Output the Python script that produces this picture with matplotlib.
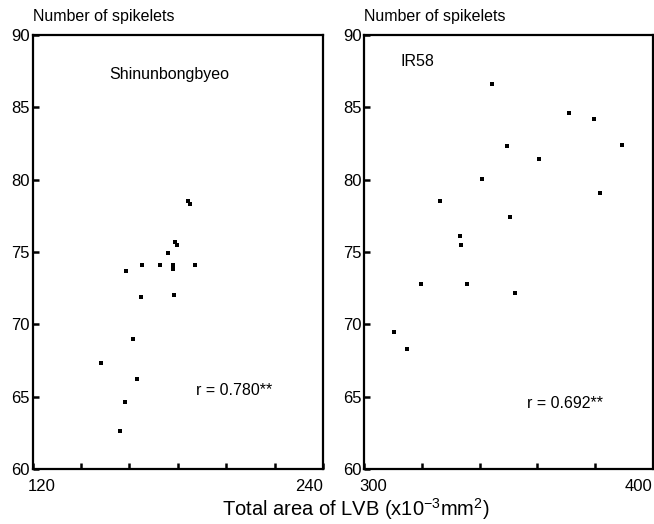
import matplotlib.pyplot as plt
import matplotlib.transforms as mtransforms

plt.rcParams['font.family'] = ['Liberation Sans', 'DejaVu Sans']

# Shinunbongbyeo: total area of LVB vs number of spikelets
shin_x = [184.0, 185.0, 178.8, 179.5, 175.8, 158.6, 165.0, 172.6, 178.0, 178.0,
          187.0, 164.9, 178.4, 161.3, 148.1, 163.2, 158.3, 156.1]
shin_y = [78.5, 78.3, 75.7, 75.5, 74.9, 73.7, 74.1, 74.1, 74.1, 73.8,
          74.1, 71.9, 72.05, 69.0, 67.3, 66.2, 64.6, 62.6]
shin_r = 'r = 0.780**'

# IR58
ir_x = [344.2, 371.0, 379.6, 349.4, 389.2, 360.6, 340.9, 381.6, 326.4, 350.4,
        333.3, 333.4, 319.5, 335.5, 352.4, 310.2, 314.9]
ir_y = [86.6, 84.6, 84.2, 82.3, 82.4, 81.4, 80.05, 79.1, 78.5, 77.4,
        76.1, 75.5, 72.8, 72.8, 72.2, 69.45, 68.3]
ir_r = 'r = 0.692**'

y_ticks = [60, 65, 70, 75, 80, 85, 90]

fig = plt.figure(figsize=(6.54, 5.24), dpi=100)
ax1 = fig.add_axes([0.050, 0.105, 0.444, 0.828])
ax2 = fig.add_axes([0.557, 0.105, 0.441, 0.828])


def setup(ax, xlim, minor_x, name, name_xy, r_txt, r_xy):
    ax.set_xlim(xlim)
    ax.set_ylim(60, 90)
    ax.set_yticks(y_ticks)
    ax.set_xticks([xlim[0]] + minor_x + [xlim[1]])
    ax.set_xticklabels([str(xlim[0])] + [''] * len(minor_x) + [str(xlim[1])])
    ax.tick_params(direction='in', length=4, width=1.8, labelsize=12, pad=7)
    ax.tick_params(axis='y', pad=2)
    for s in ax.spines.values():
        s.set_linewidth(1.6)
    lbls = ax.get_xticklabels()
    lbls[0].set_ha('left')
    lbls[0].set_transform(lbls[0].get_transform() +
                          mtransforms.ScaledTranslation(-0.05, 0, fig.dpi_scale_trans))
    lbls[-1].set_ha('right')
    ax.text(name_xy[0], name_xy[1], name, fontsize=11.5, va='center')
    ax.text(r_xy[0], r_xy[1], r_txt, fontsize=11.5, va='center')
    pos = ax.get_position()
    fig.text(pos.x0, 1 - 21 / 524, 'Number of spikelets', fontsize=11.5, va='baseline')


ax1.scatter(shin_x, shin_y, marker='s', s=6, color='black', linewidths=0)
setup(ax1, (120, 240), [140, 160, 180, 200, 220], 'Shinunbongbyeo', (151.5, 87.3),
      shin_r, (187.4, 65.45))

ax2.scatter(ir_x, ir_y, marker='s', s=6, color='black', linewidths=0)
setup(ax2, (300, 400), [320, 340, 360, 380], 'IR58', (312.6, 88.15),
      ir_r, (356.4, 64.5))

fig.text(356 / 654, 1 - 509 / 524, r'Total area of LVB (x10$^{\mathregular{-3}}$mm$^{\mathregular{2}}$)',
         fontsize=14.5, ha='center', va='center')

plt.savefig('out.png', dpi=100)
